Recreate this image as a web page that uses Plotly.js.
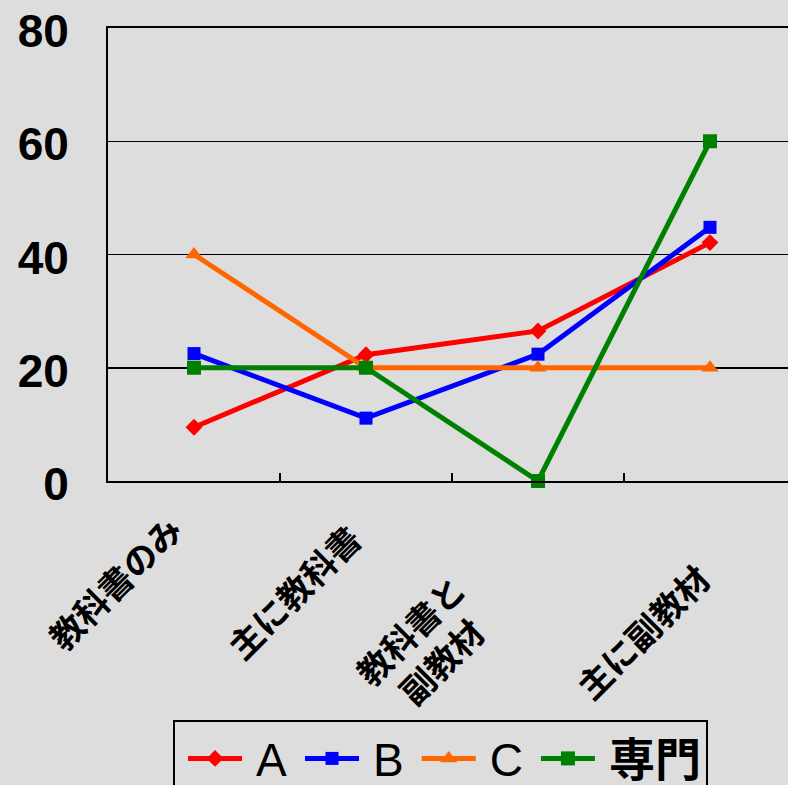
<!DOCTYPE html>
<html>
<head>
<meta charset="utf-8">
<script src="https://cdn.plot.ly/plotly-3.0.1.min.js"></script>
<style>
html,body{margin:0;padding:0;background:#dddddd;overflow:hidden;width:788px;height:785px;}
#chart{width:800px;height:785px;}
</style>
</head>
<body>
<div id="chart"></div>
<script>
const categories = ["教科書のみ", "主に教科書", "教科書と<br>副教材", "主に副教材"];
const seriesNames = ["A", "B", "C", "専門"];
const valuesA = [9.5, 22.3, 26.5, 42.1];
const valuesB = [22.5, 11.1, 22.4, 44.8];
const valuesC = [40, 20, 20, 20];
const valuesSenmon = [20, 20, 0, 60];
const yTicks = [0, 20, 40, 60, 80];

const colors = ["#ff0000", "#0000ff", "#ff6600", "#008000"];
const symbols = ["diamond", "square", "triangle-up", "square"];
const sizes = [13, 13, 15, 14];
const allValues = [valuesA, valuesB, valuesC, valuesSenmon];

const traces = allValues.map((vals, i) => ({
  type: "scatter",
  mode: "lines+markers",
  name: /^[A-Za-z]+$/.test(seriesNames[i]) ? seriesNames[i] : "<b>" + seriesNames[i] + "</b>",
  x: categories,
  y: vals,
  line: {color: colors[i], width: 5},
  marker: {color: colors[i], symbol: symbols[i], size: sizes[i]},
  cliponaxis: false
}));

// label placement offsets (pixels) relative to each category at y = 0
const labelShift = [[-80, -101], [-73, -110], [-113, -164], [-68, -150]];
const annotations = categories.map((c, i) => ({
  x: c, y: 0, xref: "x", yref: "y",
  text: c, showarrow: false, textangle: -45,
  xanchor: "center", yanchor: "middle",
  xshift: labelShift[i][0], yshift: labelShift[i][1],
  font: {family: "Noto Sans CJK JP, sans-serif", size: 34, color: "#000000", weight: "bold"}
}));

const layout = {
  width: 800,
  height: 785,
  paper_bgcolor: "#dddddd",
  plot_bgcolor: "#dddddd",
  margin: {l: 108, r: 4, t: 28, b: 304, autoexpand: false},
  showlegend: true,
  annotations: annotations,
  legend: {
    orientation: "h",
    x: 0.0945, xanchor: "left",
    y: -0.5276, yanchor: "top",
    bgcolor: "#dddddd",
    bordercolor: "#000000",
    borderwidth: 2,
    font: {family: "Liberation Sans, Noto Sans CJK JP, sans-serif", size: 46, color: "#000000"},
    itemwidth: 71
  },
  xaxis: {
    type: "category",
    range: [-0.5, 3.5],
    showline: true, mirror: true, linecolor: "#000000", linewidth: 2,
    showgrid: false,
    ticks: "inside", tickson: "boundaries", ticklen: 8, tickwidth: 2, tickcolor: "#000000",
    showticklabels: false,
    zeroline: false
  },
  yaxis: {
    range: [0, 80],
    tickvals: yTicks,
    ticktext: yTicks.map(String),
    showline: true, linecolor: "#000000", linewidth: 2,
    showgrid: true, gridcolor: "#000000", gridwidth: 1.5,
    ticks: "", ticklabelstandoff: 28, ticklabelshift: 3,
    tickfont: {family: "Liberation Sans, Arial, sans-serif", size: 46, color: "#000000", weight: "bold"},
    zeroline: false
  }
};

Plotly.newPlot("chart", traces, layout, {displayModeBar: false, staticPlot: true}).then(gd => {
  // lengthen the legend line samples to match the reference style
  gd.querySelectorAll(".legend .legendlines path").forEach(p => p.setAttribute("d", "M13,0h54"));
  gd.querySelectorAll(".legend .legendpoints path").forEach(p => p.setAttribute("transform", "translate(40,0)"));
});
</script>
</body>
</html>
